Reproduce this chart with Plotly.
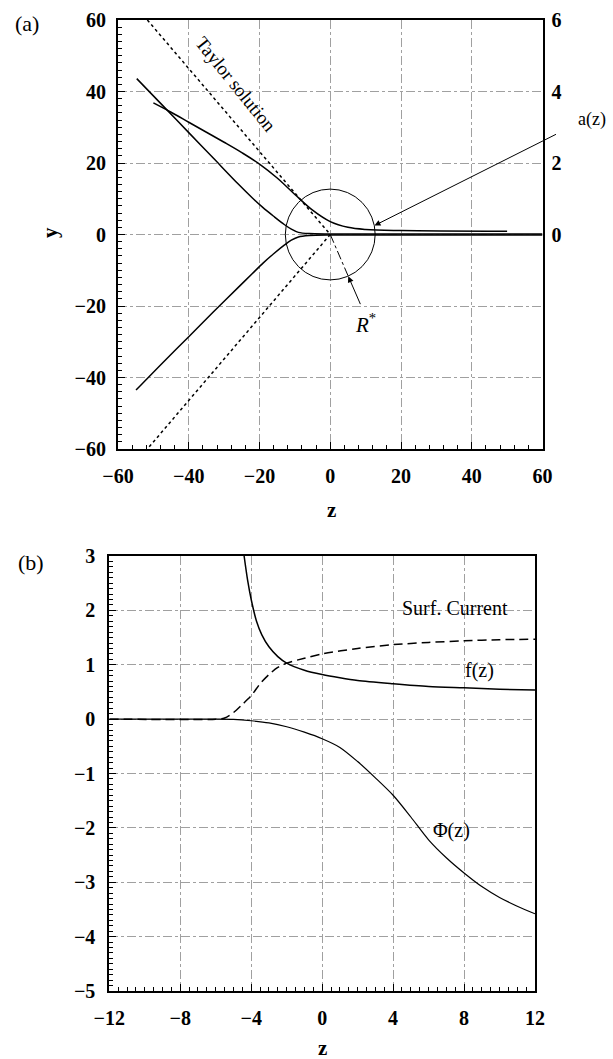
import plotly.graph_objects as go

# ---------------- Panel (a) data ----------------
taylor_z_upper = [-51.7, 0.0]
taylor_y_upper = [60.0, 0.0]
taylor_z_lower = [0.0, -51.7]
taylor_y_lower = [0.0, -60.0]

surf_upper_z = [-54.7, -47, -40, -33, -26, -22, -19, -16, -13, -11, -9, -6, 0, 60]
surf_upper_y = [43.6, 35.7, 28.5, 21.3, 14.1, 10.2, 7.5, 5.1, 2.8, 1.5, 0.6, 0.25, 0.15, 0.15]

surf_lower_z = [-54.9, -47, -40, -33, -26, -22, -19, -16, -13, -11, -9, -6, 0, 60]
surf_lower_y = [-43.5, -35.5, -28.6, -21.6, -14.8, -10.9, -8.0, -5.4, -3.0, -1.6, -0.7, -0.3, -0.15, -0.15]

az_z = [-50, -45, -40, -35, -30, -25, -20, -15, -10, -5, 0, 5, 10, 20, 50]
az_a = [3.68, 3.42, 3.14, 2.86, 2.58, 2.29, 1.97, 1.58, 1.12, 0.68, 0.36, 0.20, 0.14, 0.11, 0.09]

R_STAR = 12.7
rstar_line_z = [0.0, 5.1]
rstar_line_y = [0.0, -11.7]
rstar_arrow_tail = (8.7, -19.9)
rstar_label = (9.9, -25.0)

a_tick_vals = [0, 2, 4, 6]
top_ticks = [-60, -40, -20, 0, 20, 40, 60]

# ---------------- Panel (b) data ----------------
f_z = [-4.4, -4.2, -4.0, -3.7, -3.4, -3.0, -2.5, -2.0, -1.0, 0, 1, 2, 4, 6, 8, 10, 12]
f_v = [3.0, 2.55, 2.2, 1.8, 1.55, 1.33, 1.15, 1.03, 0.90, 0.82, 0.76, 0.71, 0.65, 0.60, 0.575, 0.55, 0.535]

sc_z = [-12, -6, -5.5, -5.0, -4.5, -4.0, -3.5, -3.0, -2.5, -2.0, -1, 0, 2, 4, 6, 8, 10, 12]
sc_v = [0, 0.0, 0.02, 0.12, 0.27, 0.43, 0.65, 0.82, 0.95, 1.03, 1.12, 1.20, 1.30, 1.37, 1.41, 1.44, 1.46, 1.47]

phi_z = [-12, -6, -5, -4, -3, -2, -1, 0, 1, 2, 3, 4, 5, 6, 7, 8, 9, 10, 11, 12]
phi_v = [0, 0, -0.005, -0.03, -0.07, -0.14, -0.24, -0.36, -0.52, -0.78, -1.08, -1.40, -1.80, -2.22, -2.55, -2.83, -3.08, -3.28, -3.44, -3.58]

bot_xticks = [-12, -8, -4, 0, 4, 8, 12]
bot_yticks = [3, 2, 1, 0, -1, -2, -3, -4, -5]

W, H = 613, 1059
SERIF = "Liberation Serif"
BLK = "black"
GRID = "#a0a0a0"

fig = go.Figure()

def ln(x, y, xa="x", ya="y", dash="solid", width=1.5, shape="spline", smoothing=0.8):
    fig.add_trace(go.Scatter(x=x, y=y, xaxis=xa, yaxis=ya, mode="lines",
                             line=dict(color=BLK, width=width, dash=dash, shape=shape, smoothing=smoothing),
                             showlegend=False, hoverinfo="skip"))

# Panel (a)
ln(taylor_z_upper, taylor_y_upper, dash="dot", shape="linear")
ln(taylor_z_lower, taylor_y_lower, dash="dot", shape="linear")
ln(surf_upper_z, surf_upper_y)
ln(surf_lower_z, surf_lower_y)
ln(az_z, az_a, ya="y3", smoothing=1.0)
ln(rstar_line_z, rstar_line_y, dash="dashdot", width=1, shape="linear")

# Panel (b)
ln(f_z, f_v, xa="x2", ya="y2")
ln(sc_z, sc_v, xa="x2", ya="y2", dash="9px,5px")
ln(phi_z, phi_v, xa="x2", ya="y2", width=1.2)

tickfont = dict(family=SERIF, size=20, color=BLK, weight="bold")

common_axis = dict(showline=True, linecolor=BLK, linewidth=2, mirror=True,
                   showgrid=True, gridcolor=GRID, gridwidth=1, griddash="dashdot",
                   zeroline=False, ticks="inside", tickcolor=BLK, ticklen=7,
                   automargin=False, tickfont=tickfont)

fig.update_layout(
    width=W, height=H, margin=dict(l=0, r=0, t=0, b=0, autoexpand=False),
    paper_bgcolor="white", plot_bgcolor="white",
    xaxis=dict(common_axis, domain=[118 / W, 542.5 / W], anchor="y", range=[-60, 60],
               tickvals=top_ticks,
               minor=dict(dtick=4, ticks="inside", ticklen=4, tickcolor=BLK, showgrid=False),
               ticklabelstandoff=8),
    yaxis=dict(common_axis, domain=[1 - 449 / H, 1 - 20 / H], anchor="x", range=[-60, 60],
               tickvals=top_ticks,
               minor=dict(dtick=2, ticks="inside", ticklen=4, tickcolor=BLK, showgrid=False),
               ticklabelstandoff=6),
    yaxis3=dict(overlaying="y", anchor="x", side="right", range=[-6, 6],
                tickvals=a_tick_vals, automargin=False,
                showgrid=False, zeroline=False, ticks="", showline=False,
                tickfont=tickfont, ticklabelstandoff=8),
    xaxis2=dict(common_axis, domain=[109.3 / W, 535 / W], anchor="y2", range=[-12, 12],
                tickvals=bot_xticks,
                minor=dict(dtick=0.5, ticks="inside", ticklen=4, tickcolor=BLK, showgrid=False),
                ticklabelstandoff=8),
    yaxis2=dict(common_axis, domain=[1 - 991 / H, 1 - 556 / H], anchor="x2", range=[-5, 3],
                tickvals=bot_yticks,
                minor=dict(dtick=0.1, ticks="inside", ticklen=4, tickcolor=BLK, showgrid=False),
                ticklabelstandoff=8),
)

# circle R*
fig.add_shape(type="circle", xref="x", yref="y", x0=-R_STAR, x1=R_STAR, y0=-R_STAR, y1=R_STAR,
              line=dict(color=BLK, width=1))

def txt(text, x, y, xref="paper", yref="paper", size=20, angle=0, bold=False):
    fig.add_annotation(text=text, x=x, y=y, xref=xref, yref=yref,
                       showarrow=False, textangle=angle, xanchor="center", yanchor="middle",
                       font=dict(family=SERIF, size=size, color=BLK, weight="bold" if bold else "normal"))

# labels
txt("(a)", 27 / W, 1 - 24 / H, size=22)
txt("(b)", 31 / W, 1 - 562 / H, size=22)
txt("y", 50 / W, 1 - 233 / H, size=21, angle=-90, bold=True)
txt("z", 331 / W, 1 - 510 / H, size=21, bold=True)
txt("z", 322 / W, 1 - 1048 / H, size=21, bold=True)
txt("Taylor solution", -26.6, 42.0, xref="x", yref="y", size=19, angle=51)
txt("a(z)", 592 / W, 1 - 119 / H, size=18)
txt("<i>R</i><sup>*</sup>", rstar_label[0], rstar_label[1], xref="x", yref="y", size=21)
txt("Surf. Current", 7.5, 2.05, xref="x2", yref="y2", size=20)
txt("f(z)", 8.85, 0.89, xref="x2", yref="y2", size=20)
txt("Φ(z)", 7.32, -2.04, xref="x2", yref="y2", size=20)

# arrows
fig.add_annotation(x=12.5, y=2.5, xref="x", yref="y", ax=183, ay=-92,
                   showarrow=True, arrowhead=2, arrowsize=1.2, arrowwidth=1, arrowcolor=BLK, text="")
fig.add_annotation(x=rstar_line_z[1], y=rstar_line_y[1], xref="x", yref="y",
                   ax=rstar_arrow_tail[0], ay=rstar_arrow_tail[1], axref="x", ayref="y",
                   showarrow=True, arrowhead=2, arrowsize=1.2, arrowwidth=1, arrowcolor=BLK, text="")

fig.write_html("out.html", config={"displayModeBar": False},
               post_script="document.body.style.margin='0';document.body.style.overflow='hidden';")
